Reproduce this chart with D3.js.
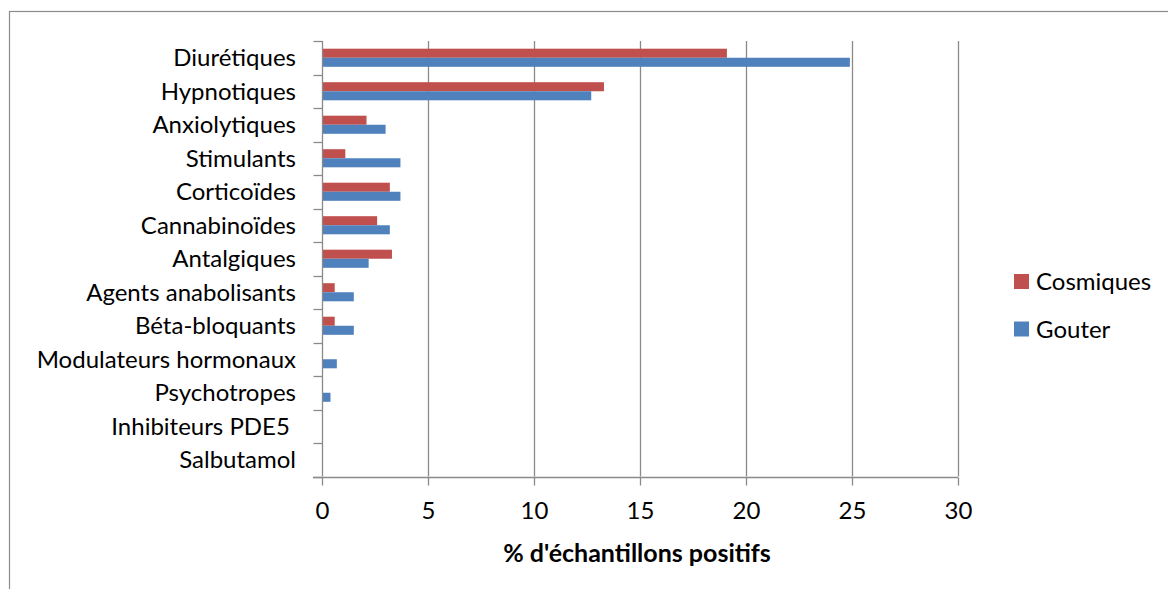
<!DOCTYPE html>
<html>
<head>
<meta charset="utf-8">
<script src="https://cdn.jsdelivr.net/npm/d3@7"></script>
<style>
  body { margin: 0; background: #fff; }
  svg { display: block; font-family: Lato, "Open Sans", sans-serif; }
</style>
</head>
<body>
<div id="chart"></div>
<script>
// categories, top to bottom
var categories = ['Diurétiques', 'Hypnotiques', 'Anxiolytiques', 'Stimulants', 'Corticoïdes',
    'Cannabinoïdes', 'Antalgiques', 'Agents anabolisants', 'Béta-bloquants',
    'Modulateurs hormonaux', 'Psychotropes', 'Inhibiteurs PDE5 ', 'Salbutamol'];

var seriesNames = ['Cosmiques', 'Gouter'];
var seriesColors = ['#C0504D', '#4F81BD'];

var cosmiques = [19.1, 13.3, 2.1, 1.1, 3.2, 2.6, 3.3, 0.6, 0.6, 0, 0, 0, 0];
var gouter = [24.9, 12.7, 3.0, 3.7, 3.7, 3.2, 2.2, 1.5, 1.5, 0.7, 0.4, 0, 0];

var xTicks = [0, 5, 10, 15, 20, 25, 30];
var xTitle = "% d'échantillons positifs";

var width = 1168, height = 589;
var margin = { left: 322, right: 210, top: 41, bottom: 113 };

var svg = d3.select('#chart').append('svg')
    .attr('width', width)
    .attr('height', height);

// outer frame (only top and left visible in the picture)
svg.append('rect')
    .attr('x', 9.5).attr('y', 11.5)
    .attr('width', 1200).attr('height', 700)
    .attr('fill', 'none')
    .attr('stroke', '#8c8c8c')
    .attr('stroke-width', 1.2);

var x = d3.scaleLinear()
    .domain([0, 30])
    .range([margin.left, width - margin.right]);

var y = d3.scaleBand()
    .domain(categories)
    .range([margin.top, height - margin.bottom + 0.5]);

var inner = d3.scaleBand()
    .domain(seriesNames)
    .range([0, y.bandwidth()])
    .paddingOuter(0.85);

var plotBottom = y.range()[1];

// vertical gridlines
svg.append('g')
    .selectAll('line')
    .data(xTicks.slice(1))
    .enter()
    .append('line')
    .attr('x1', function(d) { return Math.round(x(d)) + 0.5; })
    .attr('x2', function(d) { return Math.round(x(d)) + 0.5; })
    .attr('y1', margin.top)
    .attr('y2', plotBottom)
    .attr('stroke', '#8a8a8a')
    .attr('stroke-width', 1.3);

// bars
var rows = categories.map(function(c, i) {
    return { cat: c, values: [cosmiques[i], gouter[i]] };
});

svg.append('g')
    .selectAll('g')
    .data(rows)
    .enter()
    .append('g')
    .attr('transform', function(d) { return 'translate(0,' + y(d.cat) + ')'; })
    .selectAll('rect')
    .data(function(d) {
        return d.values.map(function(v, j) { return { name: seriesNames[j], value: v, j: j }; });
    })
    .enter()
    .filter(function(d) { return d.value > 0; })
    .append('rect')
    .attr('x', x(0))
    .attr('y', function(d) { return inner(d.name); })
    .attr('width', function(d) { return x(d.value) - x(0); })
    .attr('height', inner.bandwidth())
    .attr('fill', function(d) { return seriesColors[d.j]; });

// y axis: line plus tick marks between the categories
var gy = svg.append('g')
    .attr('transform', 'translate(' + (x(0) + 0.5) + ',0)');
gy.append('line')
    .attr('x1', 0).attr('x2', 0)
    .attr('y1', margin.top).attr('y2', plotBottom);
gy.selectAll('line.edge')
    .data(d3.range(categories.length + 1))
    .enter()
    .append('line')
    .attr('class', 'edge')
    .attr('x1', -9).attr('x2', 0)
    .attr('y1', function(i) { return Math.round(margin.top + i * y.step()) + 0.5; })
    .attr('y2', function(i) { return Math.round(margin.top + i * y.step()) + 0.5; });
gy.selectAll('line')
    .attr('stroke', '#8a8a8a')
    .attr('stroke-width', 1.3);

// category labels
svg.append('g')
    .selectAll('text')
    .data(categories)
    .enter()
    .append('text')
    .attr('x', 296)
    .attr('y', function(d) { return y(d) + y.bandwidth() / 2; })
    .attr('dy', '0.35em')
    .attr('text-anchor', 'end')
    .attr('font-size', 24)
    .attr('fill', '#000')
    .style('white-space', 'pre')
    .text(function(d) { return d; });

// x axis
var xAxis = d3.axisBottom(x).tickValues(xTicks).tickSize(8).tickSizeOuter(0).tickPadding(16);
var gx = svg.append('g')
    .attr('transform', 'translate(0,' + (Math.round(plotBottom) + 0.5) + ')')
    .call(xAxis);
gx.select('.domain').attr('stroke', '#8a8a8a').attr('stroke-width', 1.3)
    .attr('d', 'M' + (x(0) - 9) + ',0H' + x(30));
gx.selectAll('.tick line').attr('stroke', '#8a8a8a').attr('stroke-width', 1.3);
gx.selectAll('.tick text')
    .attr('font-size', 24)
    .attr('font-family', 'Lato, sans-serif')
    .attr('fill', '#000');

svg.append('text')
    .attr('x', (x(0) + x(30)) / 2 - 3)
    .attr('y', 553)
    .attr('dy', '0.35em')
    .attr('text-anchor', 'middle')
    .attr('font-size', 25)
    .attr('font-weight', 'bold')
    .text(xTitle);

// legend
var legend = svg.append('g')
    .selectAll('g')
    .data(seriesNames)
    .enter()
    .append('g')
    .attr('transform', function(d, i) { return 'translate(1014,' + (274 + i * 47.5) + ')'; });

legend.append('rect')
    .attr('width', 15)
    .attr('height', 15)
    .attr('fill', function(d, i) { return seriesColors[i]; });

legend.append('text')
    .attr('x', 22)
    .attr('y', 8)
    .attr('dy', '0.35em')
    .attr('font-size', 24)
    .text(function(d) { return d; });
</script>
</body>
</html>
